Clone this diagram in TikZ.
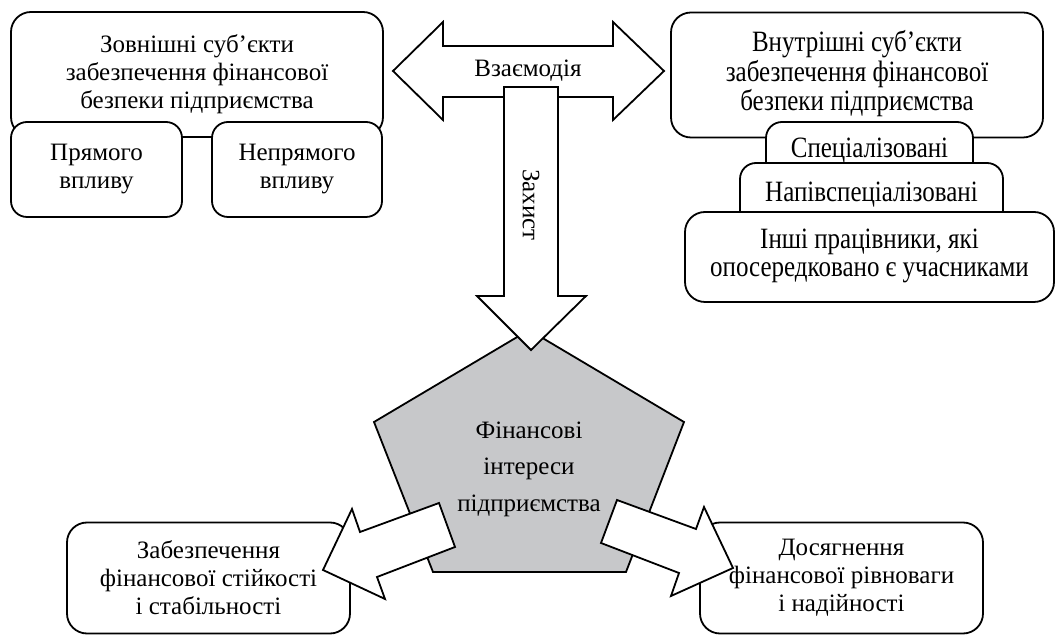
\documentclass[tikz,border=0pt]{standalone}
\usepackage{fontspec}
\setmainfont{Liberation Serif}
\definecolor{pentagray}{RGB}{199,200,202}
\newcommand{\tallrows}[1]{\scalebox{1}[1.18]{\fontsize{12.5}{11.9}\selectfont\begin{tabular}{@{}c@{}}#1\end{tabular}}}
\begin{document}
\begin{tikzpicture}[x=0.5pt,y=-0.5pt,line width=0.9pt,line join=miter,
  box/.style={draw,rounded corners=10pt,fill=white,align=center,inner sep=0pt,
    font=\fontsize{12.5}{14}\selectfont},
  sbox/.style={box,rounded corners=8pt},
  blockarrow/.style={draw,fill=white,line join=miter},
  lbl/.style={inner sep=0pt,align=center,font=\fontsize{12.5}{14}\selectfont}]
\useasboundingbox (0,0) rectangle (1055,635);

% left group
\node[box,minimum width=186pt,minimum height=62.5pt] (ext) at (197,74.5)
  {Зовнішні суб’єкти\\забезпечення фінансової\\безпеки підприємства};
\node[sbox,minimum width=85.5pt,minimum height=47.5pt] (direct) at (96.5,169.5)
  {Прямого\\впливу};
\node[sbox,minimum width=85pt,minimum height=47.5pt] (indirect) at (297,169.5)
  {Непрямого\\впливу};

% right group
\node[box,minimum width=186pt,minimum height=62.5pt] (int) at (857,75)
  {\tallrows{Внутрішні суб’єкти\\забезпечення фінансової\\безпеки підприємства}};
\node[sbox,minimum width=103.5pt,minimum height=30pt] (spec) at (869.5,152)
  {\tallrows{Спеціалізовані}};
\node[sbox,minimum width=131.5pt,minimum height=33pt] (semi) at (871.5,196)
  {\tallrows{Напівспеціалізовані}};
\node[box,minimum width=184.5pt,minimum height=45pt] (other) at (869.5,257)
  {\tallrows{Інші працівники, які\\опосередковано є учасниками}};

% interaction double arrow
\draw[blockarrow] (393,71) -- (443,22) -- (443,46) -- (613,46) -- (613,22)
  -- (664,71) -- (613,120) -- (613,97) -- (443,97) -- (443,120) -- cycle;
\node[lbl] (inter) at (528,71) {Взаємодія};

% pentagon
\draw[fill=pentagray] (529,330) -- (684,422) -- (626,572) -- (433,572)
  -- (374,422) -- cycle;
\node[lbl,font=\fontsize{12.5}{18.25}\selectfont] (fin) at (529,469)
  {Фінансові\\інтереси\\підприємства};

% protection arrow
\draw[blockarrow] (504,87) -- (558,87) -- (558,296) -- (586,296) -- (531,350)
  -- (477,296) -- (504,296) -- cycle;
\node[lbl,rotate=-90] (prot) at (531,205) {Захист};

% bottom boxes
\node[box,minimum width=141.5pt,minimum height=55.5pt] (stab) at (208.5,578)
  {Забезпечення\\фінансової стійкості\\і стабільності};
\node[box,minimum width=141.5pt,minimum height=55.5pt] (equi) at (841.5,578)
  {Досягнення\\фінансової рівноваги\\і надійності};

% bottom arrows
\draw[blockarrow] (439,503) -- (360,532) -- (352,509) -- (323,570) -- (385,599)
  -- (377,577) -- (455,547) -- cycle;
\draw[blockarrow] (617,500) -- (696,529) -- (704,507) -- (733,568) -- (671,596)
  -- (679,573) -- (601,543) -- cycle;
\end{tikzpicture}
\end{document}
